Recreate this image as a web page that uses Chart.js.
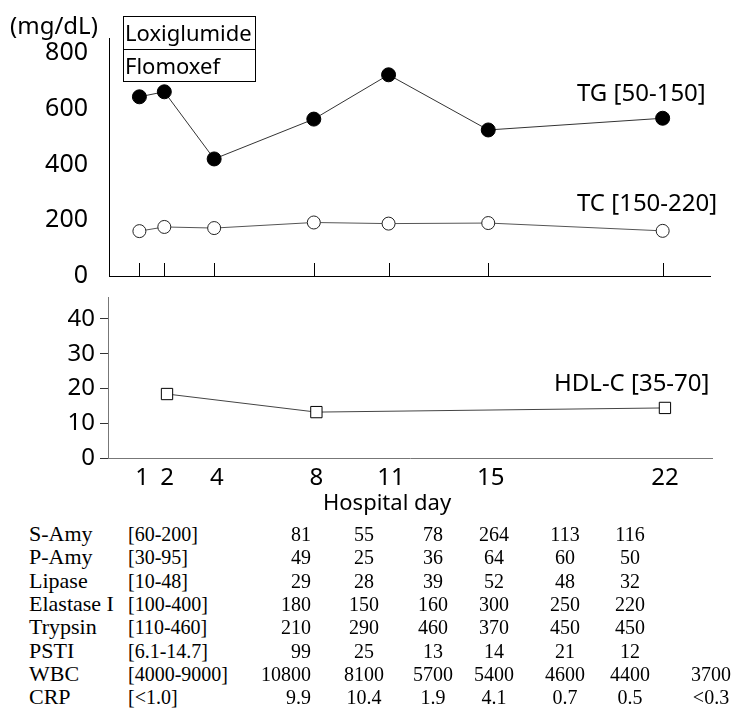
<!DOCTYPE html>
<html>
<head>
<meta charset="utf-8">
<script src="https://cdn.jsdelivr.net/npm/chart.js@4.4.0/dist/chart.umd.min.js"></script>
<style>
  body { margin: 0; background: #fff; }
  #wrap { position: relative; width: 749px; height: 716px; font-family: "Noto Sans", sans-serif; color: #000; overflow: hidden; }
  #topWrap { position: absolute; left: 0; top: 0; width: 749px; height: 290px; }
  #botWrap { position: absolute; left: 0; top: 285px; width: 749px; height: 230px; }
  .lbl { position: absolute; font-size: 24px; line-height: 30px; white-space: nowrap; }
  .box { position: absolute; border: 1px solid #000; font-size: 22px; line-height: 31px; padding-left: 1px; box-sizing: border-box; white-space: nowrap; }
  .cell { position: absolute; font-family: "Liberation Serif", serif; font-size: 20px; line-height: 24px; white-space: nowrap; }
  .cell.name { font-size: 22px; }
</style>
</head>
<body>
<div id="wrap">
  <div id="topWrap"><canvas id="topChart"></canvas></div>
  <div id="botWrap"><canvas id="botChart"></canvas></div>

  <div class="lbl" style="left:10px; top:10px;">(mg/dL)</div>
  <div class="box" style="left:123px; top:16px; width:133px; height:34px;">Loxiglumide</div>
  <div class="box" style="left:123px; top:49px; width:133px; height:33px;">Flomoxef</div>
  <div class="lbl" style="left:577px; top:77px;">TG [50-150]</div>
  <div class="lbl" style="left:577px; top:187px;">TC [150-220]</div>
  <div class="lbl" style="left:554px; top:367px;">HDL-C [35-70]</div>
  <div class="lbl" style="left:323px; top:486px; font-size:22px;">Hospital day</div>
  <div id="table"></div>
</div>

<script>
// hospital days and lab values
const days = [1, 2, 4, 8, 11, 15, 22];
const tgValues = [643, 661, 420, 563, 722, 524, 566];
const tcValues = [161, 176, 172, 192, 188, 190, 162];
const hdlDays = [2, 8, 22];
const hdlValues = [18.4, 13.2, 14.4];
const topTicks = [0, 200, 400, 600, 800];
const botTicks = [0, 10, 20, 30, 40];

// table under the chart
const rowNames = ['S-Amy', 'P-Amy', 'Lipase', 'Elastase I', 'Trypsin', 'PSTI', 'WBC', 'CRP'];
const rowRanges = ['[60-200]', '[30-95]', '[10-48]', '[100-400]', '[110-460]', '[6.1-14.7]', '[4000-9000]', '[<1.0]'];
const sAmy = ['81', '55', '78', '264', '113', '116', ''];
const pAmy = ['49', '25', '36', '64', '60', '50', ''];
const lipase = ['29', '28', '39', '52', '48', '32', ''];
const elastase = ['180', '150', '160', '300', '250', '220', ''];
const trypsin = ['210', '290', '460', '370', '450', '450', ''];
const psti = ['99', '25', '13', '14', '21', '12', ''];
const wbc = ['10800', '8100', '5700', '5400', '4600', '4400', '3700'];
const crp = ['9.9', '10.4', '1.9', '4.1', '0.7', '0.5', '<0.3'];

const innerTicks = {
    id: 'innerTicks',
    afterDraw(chart, args, opts) {
        const xs = chart.scales.x;
        const ctx = chart.ctx;
        const bottom = chart.chartArea.bottom;
        ctx.save();
        ctx.strokeStyle = opts.color || '#000';
        ctx.lineWidth = 1;
        xs.ticks.forEach(t => {
            const px = Math.round(xs.getPixelForValue(t.value)) + 0.5;
            ctx.beginPath();
            ctx.moveTo(px, bottom);
            ctx.lineTo(px, bottom - opts.length);
            ctx.stroke();
        });
        ctx.restore();
    }
};

// labels should not push the plot area around
function noPad(s) {
    s.paddingTop = 0;
    s.paddingBottom = 0;
    s.paddingLeft = 0;
    s.paddingRight = 0;
}

const tickFont = { family: '"Noto Sans", sans-serif', size: 24 };

new Chart(document.getElementById('topChart'), {
    type: 'line',
    data: {
        datasets: [
            {
                label: 'TG',
                data: days.map((d, i) => ({ x: d, y: tgValues[i] })),
                borderColor: '#333',
                borderWidth: 1,
                pointRadius: 7,
                pointBackgroundColor: '#000',
                pointBorderColor: '#000',
                pointBorderWidth: 1
            },
            {
                label: 'TC',
                data: days.map((d, i) => ({ x: d, y: tcValues[i] })),
                borderColor: '#555',
                borderWidth: 1,
                pointRadius: 6.5,
                pointBackgroundColor: '#fff',
                pointBorderColor: '#222',
                pointBorderWidth: 1
            }
        ]
    },
    options: {
        responsive: true,
        maintainAspectRatio: false,
        animation: false,
        layout: { padding: { top: 38, right: 39, bottom: 14, left: 0 } },
        plugins: {
            legend: { display: false },
            tooltip: { enabled: false },
            innerTicks: { length: 13, color: '#000' }
        },
        scales: {
            x: {
                type: 'linear',
                min: -0.22,
                max: 23.9,
                afterBuildTicks: s => { s.ticks = days.map(v => ({ value: v })); },
                afterFit: s => { s.height = 0; noPad(s); },
                ticks: { display: false },
                grid: { display: false, drawTicks: false },
                border: { color: '#000', width: 1 }
            },
            y: {
                min: 0,
                max: 854,
                afterBuildTicks: s => { s.ticks = topTicks.map(v => ({ value: v })); },
                afterFit: s => { s.width = 109; noPad(s); },
                ticks: { font: { family: '"Noto Sans", sans-serif', size: 25 }, color: '#000', padding: 21 },
                grid: { display: false, drawTicks: false },
                border: { color: '#000', width: 1 }
            }
        }
    },
    plugins: [innerTicks]
});

new Chart(document.getElementById('botChart'), {
    type: 'line',
    data: {
        datasets: [
            {
                label: 'HDL-C',
                data: hdlDays.map((d, i) => ({ x: d, y: hdlValues[i] })),
                borderColor: '#444',
                borderWidth: 1,
                pointStyle: 'rect',
                pointRadius: 8,
                pointBackgroundColor: '#fff',
                pointBorderColor: '#000',
                pointBorderWidth: 1
            }
        ]
    },
    options: {
        responsive: true,
        maintainAspectRatio: false,
        animation: false,
        layout: { padding: { top: 12, right: 37, bottom: 0, left: 0 } },
        plugins: {
            legend: { display: false },
            tooltip: { enabled: false },
            innerTicks: { length: 11, color: '#000' }
        },
        scales: {
            x: {
                type: 'linear',
                min: -0.37,
                max: 23.89,
                afterBuildTicks: s => { s.ticks = days.map(v => ({ value: v })); },
                afterFit: s => { s.height = 57; noPad(s); },
                ticks: { font: tickFont, color: '#000', padding: 6, autoSkip: false, maxRotation: 0 },
                grid: { display: false, drawTicks: false },
                border: { color: '#777', width: 1 }
            },
            y: {
                min: 0,
                max: 46.3,
                afterBuildTicks: s => { s.ticks = botTicks.map(v => ({ value: v })); },
                afterFit: s => { s.width = 108; noPad(s); },
                ticks: { font: tickFont, color: '#000', padding: 5 },
                grid: { drawOnChartArea: false, drawTicks: true, tickLength: 8, color: '#333' },
                border: { color: '#777', width: 1 }
            }
        }
    }
});

// lab table
const tableRows = [sAmy, pAmy, lipase, elastase, trypsin, psti, wbc, crp];
const colX = [311, 364, 433, 494, 565, 630, 711];
const colAlign = ['right', 'center', 'center', 'center', 'center', 'center', 'center'];
const tableEl = document.getElementById('table');

function addCell(text, x, y, align, cls) {
    const el = document.createElement('div');
    el.className = 'cell' + (cls ? ' ' + cls : '');
    el.textContent = text;
    el.style.left = x + 'px';
    el.style.top = (y - 12) + 'px';
    if (align === 'center') el.style.transform = 'translateX(-50%)';
    if (align === 'right') el.style.transform = 'translateX(-100%)';
    tableEl.appendChild(el);
}

rowNames.forEach((name, r) => {
    const y = 534 + r * 23.3;
    addCell(name, 29, y, 'left', 'name');
    addCell(rowRanges[r], 128, y, 'left');
    tableRows[r].forEach((v, c) => {
        if (v) addCell(v, colX[c], y, colAlign[c]);
    });
});
</script>
</body>
</html>
